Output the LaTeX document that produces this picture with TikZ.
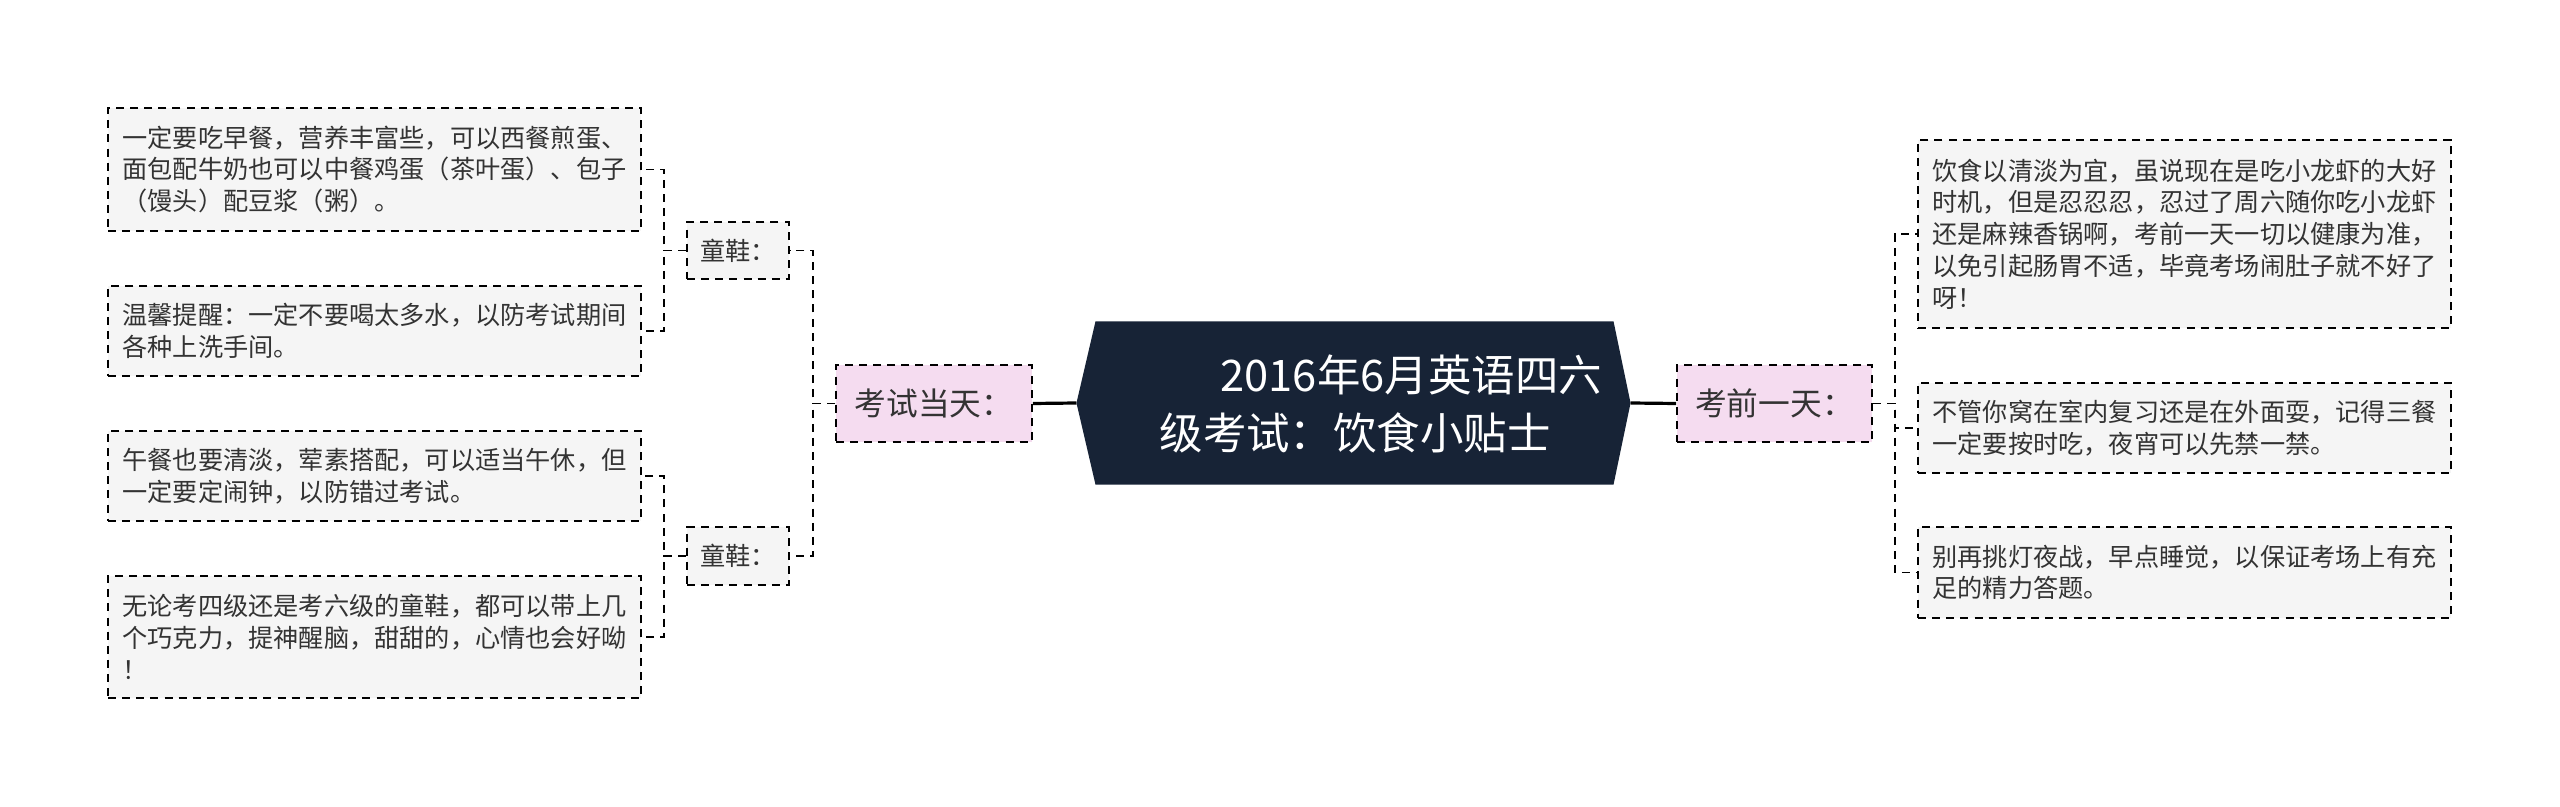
\documentclass[tikz,border=0pt]{standalone}
\usepackage{fontspec}
\setmainfont{Noto Sans CJK SC}
\usetikzlibrary{calc}
\definecolor{leafgray}{HTML}{F5F5F5}
\definecolor{pinkfill}{HTML}{F5DCF0}
\definecolor{navy}{HTML}{172336}
\definecolor{txt}{HTML}{333333}
\pgfdeclarelayer{bg}
\pgfsetlayers{bg,main}
\begin{document}
\begin{tikzpicture}[x=0.375pt,y=-0.375pt,
  sz/.style 2 args={minimum width=#1*0.375pt, minimum height=#2*0.375pt},
  dashbox/.style={draw=black, dash pattern=on 3pt off 2.3pt, line width=0.7pt, inner sep=0pt},
  leaf/.style={dashbox, fill=leafgray, text=txt, align=left, font=\fontsize{9.45pt}{11.9pt}\selectfont},
  tong/.style={dashbox, fill=leafgray, text=txt, align=center, font=\fontsize{9.45pt}{11.9pt}\selectfont},
  branch/.style={dashbox, fill=pinkfill, text=txt, align=center, font=\fontsize{11.9pt}{14pt}\selectfont},
  conn/.style={draw=black, dash pattern=on 3pt off 2.3pt, line width=0.7pt},
  mainconn/.style={draw=black, line width=1.2pt}]
\useasboundingbox (0,0) rectangle (2560,807);

% central topic
\node (hex) [sz={553}{162}, inner sep=0pt] at (1353.5,403) {};
\begin{pgfonlayer}{bg}
\fill[white] (0,0) rectangle (2560,807);
\fill[navy] (hex.west) -- ($(hex.north west)+(19,0)$) -- ($(hex.north east)+(-17,0)$) -- (hex.east)
  -- ($(hex.south east)+(-17,0)$) -- ($(hex.south west)+(19,0)$) -- cycle;
\end{pgfonlayer}
\node (title) [anchor=west, align=left, text=white, inner sep=0pt,
  font=\fontsize{16.3pt}{21.6pt}\selectfont] at (1159,404)
  {\hspace*{22.9pt}2016年6月英语四六\\级考试：饮食小贴士};

% branches
\node (K1) [branch, sz={196}{77}] at (934,403.5) {考试当天：};
\node (K2) [branch, sz={195}{77}] at (1774.5,403.5) {考前一天：};

% left sub-branches
\node (T1) [tong, sz={102}{57}] at (738,250.5) {童鞋：};
\node (T2) [tong, sz={102}{58}] at (738,556) {童鞋：};

% left leaves
\node (L1) [leaf, sz={533}{123}] at (374.5,169.5) {一定要吃早餐，营养丰富些，可以西餐煎蛋、\\面包配牛奶也可以中餐鸡蛋（茶叶蛋）、包子\\（馒头）配豆浆（粥）。};
\node (L2) [leaf, sz={533}{90}] at (374.5,331) {温馨提醒：一定不要喝太多水，以防考试期间\\各种上洗手间。};
\node (L3) [leaf, sz={533}{90}] at (374.5,476) {午餐也要清淡，荤素搭配，可以适当午休，但\\一定要定闹钟，以防错过考试。};
\node (L4) [leaf, sz={533}{122}] at (374.5,637) {无论考四级还是考六级的童鞋，都可以带上几\\个巧克力，提神醒脑，甜甜的，心情也会好呦\\！};

% right leaves
\node (R1) [leaf, sz={533}{188}] at (2184.5,234) {饮食以清淡为宜，虽说现在是吃小龙虾的大好\\时机，但是忍忍忍，忍过了周六随你吃小龙虾\\还是麻辣香锅啊，考前一天一切以健康为准，\\以免引起肠胃不适，毕竟考场闹肚子就不好了\\呀！};
\node (R2) [leaf, sz={533}{90}] at (2184.5,428) {不管你窝在室内复习还是在外面耍，记得三餐\\一定要按时吃，夜宵可以先禁一禁。};
\node (R3) [leaf, sz={533}{91}] at (2184.5,572.5) {别再挑灯夜战，早点睡觉，以保证考场上有充\\足的精力答题。};

% junction columns
\coordinate (v1) at (664,0);
\coordinate (v2) at (813,0);
\coordinate (v3) at (1895,0);

% connectors
\draw[mainconn] (hex.west) -- (K1.east);
\draw[mainconn] (hex.east) -- (K2.west);

\draw[conn] (K1.west) -- (K1.west -| v2) |- (T1.east);
\draw[conn] (K1.west) -- (K1.west -| v2) |- (T2.east);

\draw[conn] (T1.west) -- (T1.west -| v1) |- (L1.east);
\draw[conn] (T1.west) -- (T1.west -| v1) |- (L2.east);
\draw[conn] (T2.west) -- (T2.west -| v1) |- (L3.east);
\draw[conn] (T2.west) -- (T2.west -| v1) |- (L4.east);

\draw[conn] (K2.east) -- (K2.east -| v3) |- (R1.west);
\draw[conn] (K2.east) -- (K2.east -| v3) |- (R2.west);
\draw[conn] (K2.east) -- (K2.east -| v3) |- (R3.west);
\end{tikzpicture}
\end{document}
